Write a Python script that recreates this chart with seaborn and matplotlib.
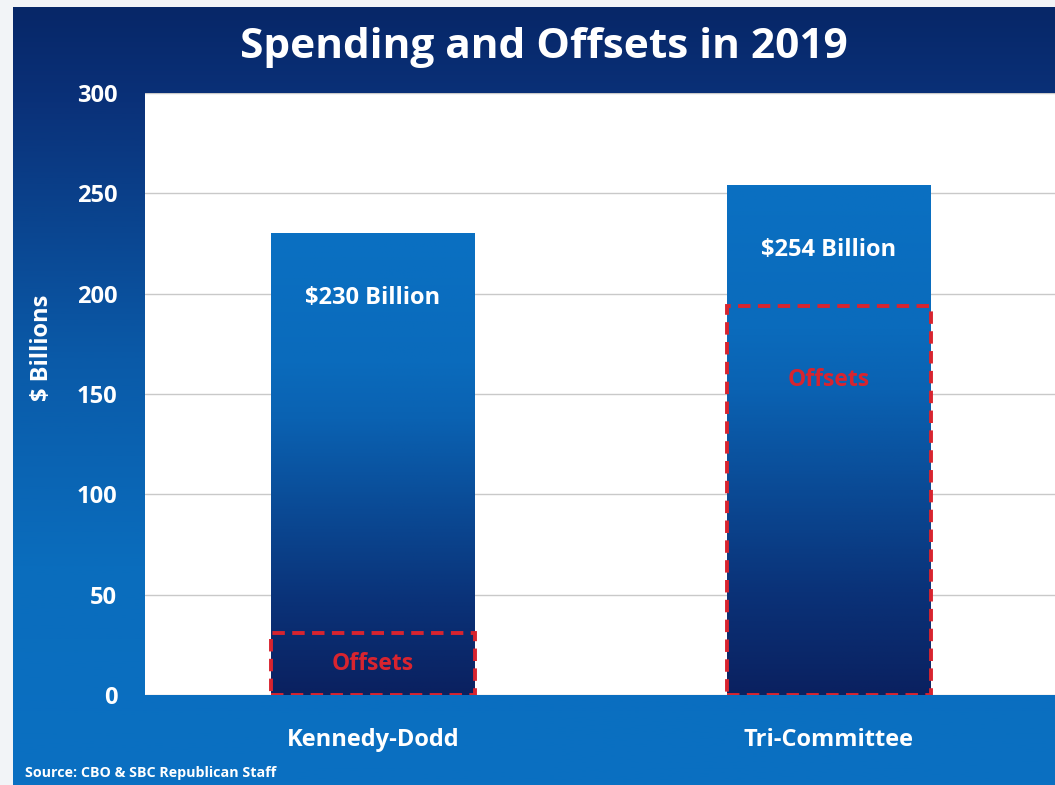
import numpy as np
import pandas as pd
import matplotlib
matplotlib.use("Agg")
import matplotlib.pyplot as plt
from matplotlib.colors import LinearSegmentedColormap
import seaborn as sns

# Data
categories = ["Kennedy-Dodd", "Tri-Committee"]
spending = [230, 254]
offsets = [31, 194]
value_labels = ["$230 Billion", "$254 Billion"]
y_ticks = [0, 50, 100, 150, 200, 250, 300]

sns.set_theme(style="white")
plt.rcParams["font.family"] = ["Open Sans", "DejaVu Sans"]

W, H = 1055, 785
fig = plt.figure(figsize=(W / 100, H / 100), dpi=100)
fig.patch.set_facecolor("#f2f4f7")

# Slide background: navy at the top fading to bright blue
bg = fig.add_axes([13 / W, 0, 1 - 13 / W, 1 - 7 / H], zorder=0)
bg_cmap = LinearSegmentedColormap.from_list(
    "bg", [(0.0, "#072768"), (0.12, "#0a3179"), (0.45, "#0a5aa8"),
           (0.72, "#0a6dbd"), (1.0, "#0a70c2")])
grad = np.linspace(0, 1, 400).reshape(-1, 1)
bg.imshow(grad, cmap=bg_cmap, aspect="auto", extent=[0, 1, 1, 0])
bg.set_axis_off()

# Plot area
ax = fig.add_axes([145 / W, 1 - 695 / H, (1057 - 145) / W, (695 - 93) / H], zorder=1)
ax.set_facecolor("white")

df = pd.DataFrame({"category": categories, "spending": spending, "offsets": offsets})
bar_width = 0.447

sns.barplot(data=df, x="category", y="spending", order=categories, ax=ax,
            width=bar_width, color="#0a6fc0", saturation=1, errorbar=None, zorder=2)

# Vertical fill for each bar: dark navy at the base, bright blue at the top
bar_cmap = LinearSegmentedColormap.from_list(
    "bar", [(0.0, "#0a2160"), (0.2, "#0a3278"), (0.4, "#0a4a95"),
            (0.6, "#0a62b2"), (0.72, "#0a6bbc"), (1.0, "#0a70c2")])
for patch in list(ax.patches):
    x0, w, h = patch.get_x(), patch.get_width(), patch.get_height()
    patch.set_facecolor("none")
    patch.set_edgecolor("none")
    im = ax.imshow(np.linspace(1, 0, 300).reshape(-1, 1), cmap=bar_cmap,
                   aspect="auto", extent=[x0, x0 + w, 0, h], zorder=2, vmin=0, vmax=1)
    im.set_clip_path(patch)

sns.barplot(data=df, x="category", y="offsets", order=categories, ax=ax,
            width=bar_width, fill=False, edgecolor="#d8242f", linewidth=2.8,
            linestyle=(0, (3.2, 1.9)), errorbar=None, zorder=3)

ax.set_xlim(-0.5, 1.5)
ax.set_ylim(0, 300)
ax.set_yticks(y_ticks)
ax.yaxis.grid(True, color="#c9c9c9", linewidth=1.0, zorder=0)
ax.set_axisbelow(True)
for s in ax.spines.values():
    s.set_visible(False)

ax.tick_params(axis="y", length=0, pad=20, labelsize=17, labelcolor="white")
for t in ax.get_yticklabels():
    t.set_fontweight("bold")
ax.tick_params(axis="x", length=0, pad=24, labelsize=17, labelcolor="white")
for t in ax.get_xticklabels():
    t.set_fontweight("bold")
ax.set_xlabel("")
ax.set_ylabel("$ Billions", color="white", fontsize=17, fontweight="bold")
ax.yaxis.set_label_coords((54 - 145) / (1057 - 145), (695 - 348) / (695 - 93))

# Labels inside the bars
for i, (total, off, lab) in enumerate(zip(spending, offsets, value_labels)):
    ax.text(i, total - 32, lab, ha="center", va="center", color="white",
            fontsize=17, fontweight="bold", zorder=4)
    ax.text(i, off - min(off / 2, 37), "Offsets", ha="center", va="center",
            color="#d8242f", fontsize=16.5, fontweight="bold", zorder=4)

fig.text(544 / W, 1 - 48 / H, "Spending and Offsets in 2019", ha="center", va="center",
         color="white", fontsize=30.5, fontweight="bold")
fig.text(25 / W, 1 - 773 / H, "Source: CBO & SBC Republican Staff", ha="left", va="center",
         color="white", fontsize=10.3, fontweight="bold")

fig.savefig("out.png", dpi=100)
